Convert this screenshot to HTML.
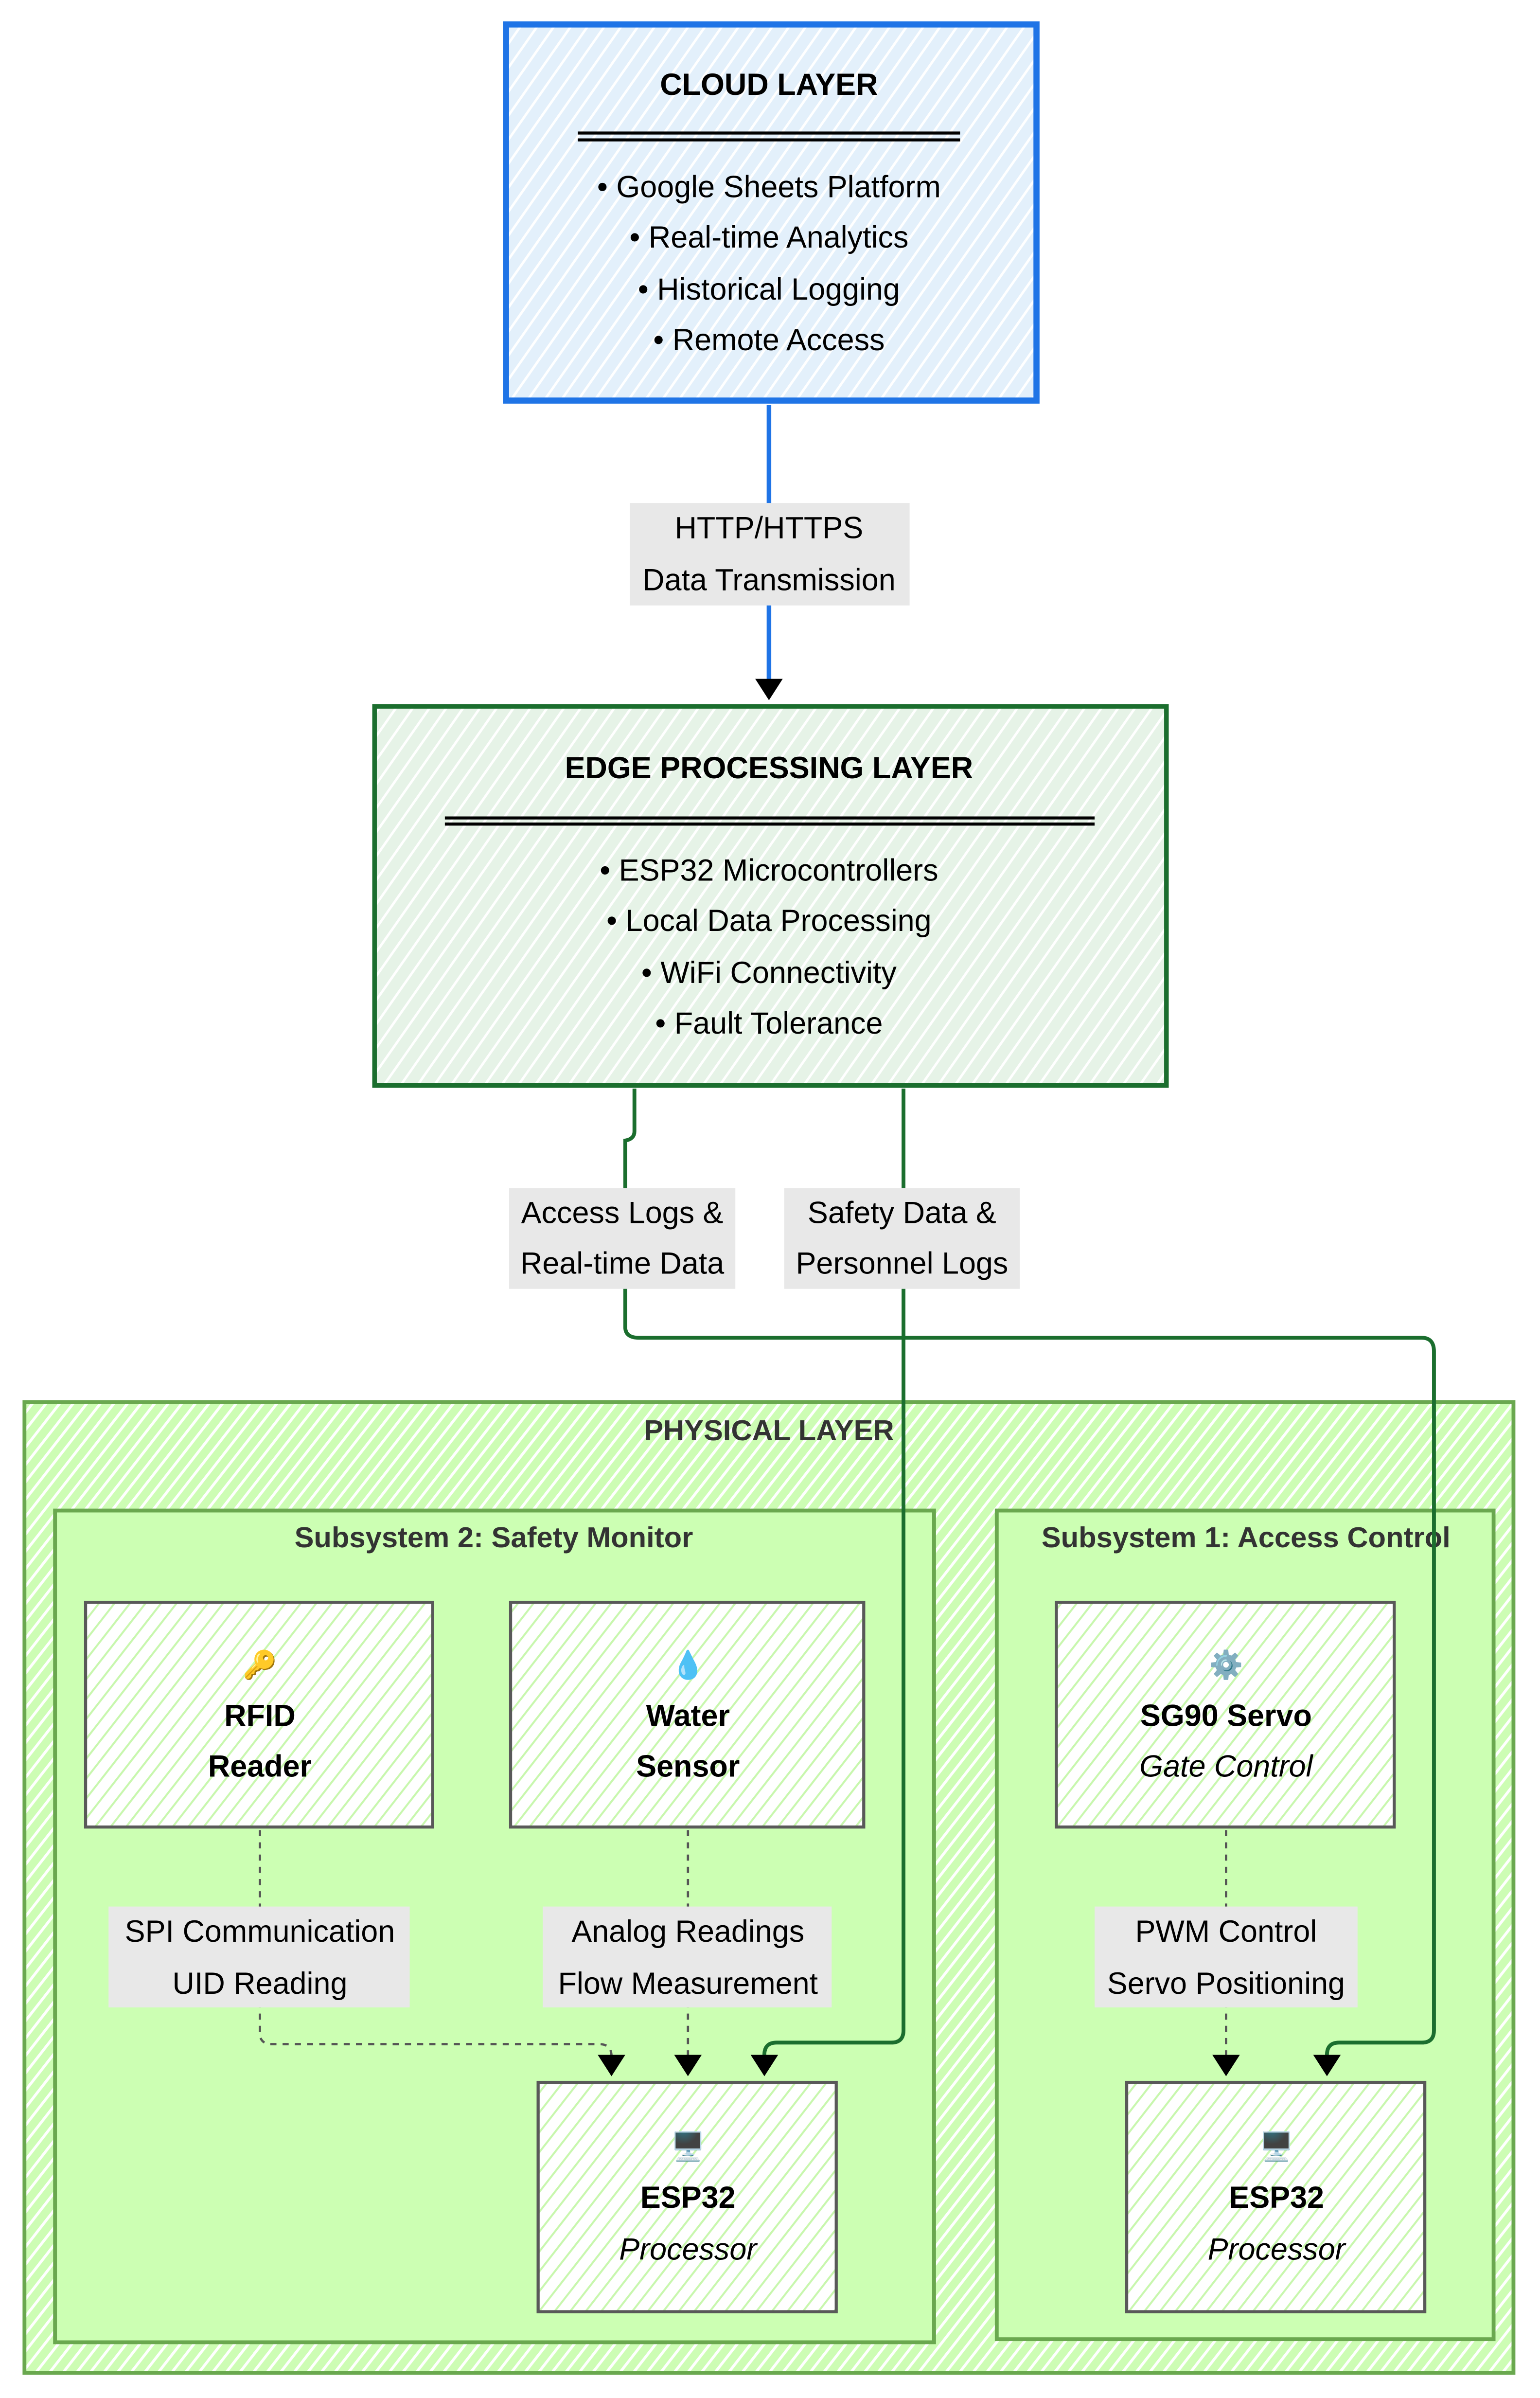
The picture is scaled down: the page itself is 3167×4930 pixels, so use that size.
<!DOCTYPE html>
<html><head><meta charset="utf-8"><style>html,body{margin:0;padding:0;background:#fff}svg{display:block}text{font-family:"Liberation Sans",Arial,sans-serif}</style></head>
<body>
<svg width="3167" height="4930" viewBox="0 0 1000 1557" preserveAspectRatio="none" xmlns="http://www.w3.org/2000/svg">
<defs>
<pattern id="hb" width="9" height="9" patternUnits="userSpaceOnUse" patternTransform="rotate(35)">
<rect width="9" height="9" fill="#e3f0fb"/><rect width="1.6" height="9" fill="#fff"/></pattern>
<pattern id="hg" width="9" height="9" patternUnits="userSpaceOnUse" patternTransform="rotate(35)">
<rect width="9" height="9" fill="#e6f3e7"/><rect width="1.6" height="9" fill="#fff"/></pattern>
<pattern id="hp" width="7" height="7" patternUnits="userSpaceOnUse" patternTransform="rotate(38)">
<rect width="7" height="7" fill="#cdfdb4"/><rect width="1.8" height="7" fill="#fff"/></pattern>
<pattern id="hn" width="8" height="8" patternUnits="userSpaceOnUse" patternTransform="rotate(38)">
<rect width="8" height="8" fill="#fff"/><rect width="1.3" height="8" fill="#c8f7ae"/></pattern>
</defs>
<g transform="scale(0.9927)">
<!-- Cloud -->
<rect x="331" y="16" width="347" height="246" fill="url(#hb)" stroke="#1f74e6" stroke-width="4"/>
<text x="503" y="62" font-size="20" font-weight="bold" text-anchor="middle">CLOUD LAYER</text>
<line x1="378" y1="87" x2="628" y2="87" stroke="#000" stroke-width="2"/>
<line x1="378" y1="91.5" x2="628" y2="91.5" stroke="#000" stroke-width="2"/>
<g font-size="20" text-anchor="middle" fill="#000">
<text x="503" y="129">• Google Sheets Platform</text>
<text x="503" y="162">• Real-time Analytics</text>
<text x="503" y="196">• Historical Logging</text>
<text x="503" y="229">• Remote Access</text>
</g>
<line x1="503" y1="265" x2="503" y2="448" stroke="#1f74e6" stroke-width="3"/>
<path d="M494,444 L512,444 L503,458 Z" fill="#000"/>
<rect x="412" y="329" width="183" height="67" fill="#e8e8e8"/>
<text x="503" y="352" font-size="20" text-anchor="middle">HTTP/HTTPS</text>
<text x="503" y="386" font-size="20" text-anchor="middle">Data Transmission</text>

<!-- Edge -->
<rect x="245" y="462" width="518" height="248" fill="url(#hg)" stroke="#1b6e2e" stroke-width="3"/>
<text x="503" y="509" font-size="20" font-weight="bold" text-anchor="middle">EDGE PROCESSING LAYER</text>
<line x1="291" y1="535" x2="716" y2="535" stroke="#000" stroke-width="2"/>
<line x1="291" y1="539" x2="716" y2="539" stroke="#000" stroke-width="2"/>
<g font-size="20" text-anchor="middle">
<text x="503" y="576">• ESP32 Microcontrollers</text>
<text x="503" y="609">• Local Data Processing</text>
<text x="503" y="643">• WiFi Connectivity</text>
<text x="503" y="676">• Fault Tolerance</text>
</g>

<!-- Physical -->
<rect x="16" y="917" width="974" height="635" fill="url(#hp)" stroke="#6aa84f" stroke-width="2.5"/>
<text x="503" y="942" font-size="19" font-weight="bold" text-anchor="middle" fill="#333">PHYSICAL LAYER</text>
<rect x="36" y="988" width="575" height="544" fill="#ccffb3" stroke="#6aa84f" stroke-width="2.5"/>
<text x="323" y="1012" font-size="19" font-weight="bold" text-anchor="middle" fill="#333">Subsystem 2: Safety Monitor</text>
<rect x="652" y="988" width="325" height="542" fill="#ccffb3" stroke="#6aa84f" stroke-width="2.5"/>
<text x="815" y="1012" font-size="19" font-weight="bold" text-anchor="middle" fill="#333">Subsystem 1: Access Control</text>

<!-- nodes -->
<g stroke="#595959" stroke-width="2" fill="url(#hn)">
<rect x="56" y="1048" width="227" height="147"/>
<rect x="334" y="1048" width="231" height="147"/>
<rect x="691" y="1048" width="221" height="147"/>
<rect x="352" y="1362" width="195" height="150"/>
<rect x="737" y="1362" width="195" height="150"/>
</g>
<g font-size="20" text-anchor="middle">
<text x="170" y="1095" font-size="18">🔑</text>
<text x="170" y="1129" font-weight="bold">RFID</text>
<text x="170" y="1162" font-weight="bold">Reader</text>
<text x="450" y="1095" font-size="18">💧</text>
<text x="450" y="1129" font-weight="bold">Water</text>
<text x="450" y="1162" font-weight="bold">Sensor</text>
<text x="802" y="1095" font-size="18">⚙️</text>
<text x="802" y="1129" font-weight="bold">SG90 Servo</text>
<text x="802" y="1162" font-style="italic">Gate Control</text>
<text x="450" y="1410" font-size="18">🖥️</text>
<text x="450" y="1444" font-weight="bold">ESP32</text>
<text x="450" y="1478" font-style="italic">Processor</text>
<text x="835" y="1410" font-size="18">🖥️</text>
<text x="835" y="1444" font-weight="bold">ESP32</text>
<text x="835" y="1478" font-style="italic">Processor</text>
</g>

<!-- dashed connectors -->
<g stroke="#555" stroke-width="1.5" stroke-dasharray="4,4" fill="none">
<path d="M170,1197 L170,1330 Q170,1337 178,1337 L392,1337 Q400,1337 400,1345 L400,1348"/>
<path d="M450,1197 L450,1348"/>
<path d="M802,1197 L802,1348"/>
</g>
<g fill="#000">
<path d="M391,1344 L409,1344 L400,1358 Z"/>
<path d="M441,1344 L459,1344 L450,1358 Z"/>
<path d="M793,1344 L811,1344 L802,1358 Z"/>
</g>
<g font-size="20" text-anchor="middle">
<rect x="71" y="1247" width="197" height="66" fill="#e8e8e8"/>
<text x="170" y="1270">SPI Communication</text>
<text x="170" y="1304">UID Reading</text>
<rect x="355" y="1247" width="189" height="66" fill="#e8e8e8"/>
<text x="450" y="1270">Analog Readings</text>
<text x="450" y="1304">Flow Measurement</text>
<rect x="716" y="1247" width="172" height="66" fill="#e8e8e8"/>
<text x="802" y="1270">PWM Control</text>
<text x="802" y="1304">Servo Positioning</text>
</g>

<!-- green connectors -->
<g stroke="#1b6e2e" stroke-width="2.5" fill="none">
<path d="M415,712 L415,740 Q415,745 409,746 L409,868 Q409,875 418,875 L930,875 Q938,875 938,884 L938,1328 Q938,1336 930,1336 L876,1336 Q868,1336 868,1344 L868,1347"/>
<path d="M591,712 L591,1328 Q591,1336 583,1336 L508,1336 Q500,1336 500,1344 L500,1347"/>
</g>
<g fill="#000">
<path d="M491,1344 L509,1344 L500,1358 Z"/>
<path d="M859,1344 L877,1344 L868,1358 Z"/>
</g>
<g font-size="20" text-anchor="middle">
<rect x="333" y="777" width="148" height="66" fill="#e8e8e8"/>
<text x="407" y="800">Access Logs &amp;</text>
<text x="407" y="833">Real-time Data</text>
<rect x="513" y="777" width="154" height="66" fill="#e8e8e8"/>
<text x="590" y="800">Safety Data &amp;</text>
<text x="590" y="833">Personnel Logs</text>
</g>
</g>
</svg>
</body></html>
